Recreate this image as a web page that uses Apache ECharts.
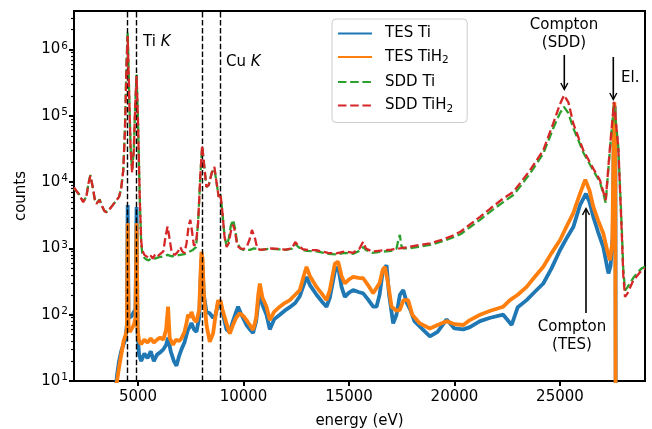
<!DOCTYPE html>
<html><head><meta charset="utf-8">
<script src="https://cdn.jsdelivr.net/npm/echarts@6/dist/echarts.min.js"></script>
<style>html,body{margin:0;padding:0;background:#fff}#c{width:652px;height:429px}</style>
</head><body><div id="c"></div>
<script>
// ---- data (energy eV, counts) ----
const tesTi = [[3950,8],[4000,12],[4100,20],[4200,28],[4300,35],[4400,42],[4470,70],[4510,4500],[4550,90],[4620,85],[4700,95],[4800,110],[4880,120],[4932,4200],[4980,50],[5050,25],[5150,20],[5300,26],[5450,22],[5600,28],[5750,20],[5900,25],[6050,27],[6200,30],[6330,35],[6423,45],[6550,28],[6700,20],[6821,17],[6950,24],[7059,30],[7200,38],[7300,50],[7372,60],[7450,65],[7533,75],[7650,60],[7770,55],[7900,90],[7960,300],[8007,700],[8060,500],[8120,200],[8245,110],[8401,105],[8557,90],[8680,100],[8795,148],[8850,130],[8905,140],[9000,110],[9193,60],[9350,55],[9500,80],[9650,110],[9743,132],[9900,100],[10141,70],[10300,60],[10454,53],[10600,80],[10700,150],[10772,210],[10900,140],[11090,100],[11246,60],[11450,85],[11720,100],[11950,115],[12195,130],[12450,150],[12669,190],[12850,280],[12987,372],[13150,280],[13461,200],[13700,160],[13935,132],[14090,180],[14330,450],[14486,528],[14650,260],[14803,186],[15000,215],[15197,235],[15450,220],[15672,210],[15900,170],[16146,132],[16305,132],[16450,200],[16600,450],[16781,560],[16900,200],[17094,74],[17250,100],[17412,200],[17570,235],[17745,150],[17900,120],[18100,80],[18517,59],[18835,47],[19200,55],[19627,85],[20000,62],[20414,60],[20731,65],[21210,80],[21700,90],[22310,100],[22710,70],[23000,130],[23420,166],[23800,220],[24210,296],[24600,500],[25000,940],[25300,1400],[25632,2100],[25950,4500],[26230,6700],[26400,5000],[26580,3000],[26800,1800],[27055,1050],[27250,500],[27300,420],[27400,550],[27500,1500],[27560,80000],[27600,140000],[27630,20000],[27645,1]];

const tesTiH2 = [[3950,8],[4005,10],[4100,16],[4165,21],[4250,30],[4322,41],[4400,48],[4470,60],[4510,2400],[4550,62],[4620,55],[4700,62],[4800,70],[4880,90],[4932,2400],[4980,60],[5050,40],[5150,36],[5300,42],[5450,38],[5600,44],[5750,38],[5900,42],[6050,45],[6200,42],[6330,60],[6423,132],[6500,45],[6660,35],[6800,42],[6950,40],[7059,44],[7200,55],[7300,75],[7372,100],[7450,90],[7533,110],[7650,85],[7770,78],[7900,120],[7960,400],[8007,890],[8060,700],[8120,200],[8245,70],[8401,39],[8557,52],[8680,100],[8795,166],[8850,150],[8905,166],[9000,120],[9193,74],[9350,52],[9500,70],[9650,90],[9824,105],[10000,95],[10141,83],[10300,70],[10454,59],[10600,90],[10700,200],[10772,296],[10900,180],[11090,132],[11246,83],[11450,110],[11720,132],[11950,150],[12195,166],[12450,200],[12669,235],[12850,380],[12987,528],[13150,380],[13461,263],[13700,210],[13935,166],[14090,235],[14330,590],[14486,630],[14650,380],[14803,296],[15000,340],[15197,372],[15450,360],[15672,355],[15900,280],[16146,210],[16450,300],[16600,480],[16700,528],[16850,300],[17018,132],[17250,115],[17412,118],[17580,166],[17805,166],[18000,100],[18360,74],[18835,62],[19200,70],[19627,80],[20000,72],[20414,70],[20731,83],[21210,100],[21700,115],[22310,132],[22630,166],[23000,200],[23420,263],[23800,370],[24210,528],[24600,850],[25000,1330],[25300,2100],[25632,3400],[25950,6700],[26200,10900],[26400,7500],[26580,4260],[26800,2700],[27055,1680],[27250,900],[27370,665],[27480,1200],[27540,30000],[27580,160000],[27620,30000],[27640,1]];

const sddTi = [[1965,8000],[2200,6600],[2400,5100],[2550,6000],[2650,9500],[2740,12800],[2850,8500],[2950,5500],[3030,4800],[3120,5000],[3180,5500],[3260,4600],[3400,3700],[3500,3550],[3650,3900],[3800,4500],[3950,5200],[4100,6000],[4200,8000],[4300,15000],[4380,65000],[4450,600000],[4510,1850000],[4580,220000],[4650,32000],[4720,15000],[4800,32000],[4870,160000],[4932,420000],[5000,80000],[5080,6000],[5150,1200],[5200,850],[5300,720],[5400,680],[5500,660],[5600,700],[5800,700],[6000,740],[6200,760],[6400,800],[6600,760],[6800,780],[7000,800],[7200,820],[7400,880],[7600,950],[7750,1050],[7850,2500],[7950,12000],[8040,34000],[8120,20000],[8240,8500],[8350,9000],[8500,14000],[8620,16000],[8720,10000],[8820,6000],[8905,6500],[9000,3500],[9100,1500],[9200,1100],[9300,1400],[9400,2200],[9505,2700],[9600,2000],[9700,1200],[9850,1000],[10000,950],[10300,950],[10500,1000],[10800,950],[11000,970],[11300,990],[11700,970],[12000,950],[12300,990],[12450,1180],[12510,1250],[12600,1050],[12800,950],[13000,920],[13460,900],[14000,830],[14400,810],[14800,860],[15200,830],[15500,920],[15670,1050],[15800,950],[16100,860],[16500,890],[17000,920],[17255,1000],[17350,1400],[17412,1600],[17480,1100],[17570,1000],[17800,1000],[18300,1060],[18840,1130],[19400,1280],[19900,1450],[20300,1650],[21210,2700],[21700,3600],[22310,5000],[22790,6400],[23200,9300],[23580,13500],[24210,27000],[24682,65000],[25000,110000],[25190,137000],[25400,110000],[25632,65000],[25900,41000],[26106,28000],[26580,15000],[26897,10000],[27050,6800],[27167,4900],[27372,32000],[27561,150000],[27765,34000],[27925,2200],[28000,500],[28083,232],[28200,260],[28477,360],[28700,440],[28875,500],[29031,530]];

const sddTiH2 = [[1965,8300],[2200,6500],[2400,5000],[2550,6000],[2650,9500],[2740,12500],[2850,8500],[2950,5500],[3030,4700],[3120,5000],[3180,5400],[3260,4600],[3400,3700],[3500,3500],[3650,3900],[3800,4500],[3950,5200],[4100,6000],[4200,8000],[4300,15000],[4380,60000],[4450,500000],[4510,1600000],[4580,200000],[4650,30000],[4720,14000],[4800,30000],[4870,150000],[4932,400000],[5000,80000],[5080,6000],[5150,1300],[5200,950],[5300,800],[5400,760],[5500,720],[5600,780],[5700,700],[5800,800],[5900,750],[6000,800],[6200,900],[6300,1500],[6400,2150],[6480,1500],[6600,850],[6750,800],[6900,900],[7000,1050],[7100,900],[7200,850],[7300,1200],[7400,2200],[7480,2700],[7560,1800],[7650,1100],[7750,1200],[7850,2500],[7950,12000],[8040,36000],[8120,20000],[8240,8500],[8350,9000],[8500,14000],[8620,17000],[8720,10000],[8820,6000],[8905,6700],[9000,3500],[9100,1500],[9200,1050],[9300,1200],[9400,1800],[9500,2300],[9600,1800],[9700,1100],[9850,1000],[10000,980],[10150,1050],[10300,1400],[10400,1900],[10455,2000],[10550,1400],[10650,1000],[10800,950],[11000,970],[11300,1000],[11700,980],[12000,960],[12300,1000],[12450,1250],[12510,1330],[12600,1100],[12800,980],[13000,950],[13460,940],[14000,860],[14400,840],[14800,900],[15200,860],[15500,1000],[15670,1260],[15800,1000],[16100,900],[16500,930],[17000,960],[17400,1000],[17800,1050],[18300,1120],[18840,1190],[19400,1350],[19900,1550],[20300,1800],[21210,3000],[21700,4000],[22310,5670],[22790,7130],[23200,10500],[23580,15100],[24210,30300],[24682,77000],[25000,150000],[25190,205000],[25400,160000],[25632,77000],[25900,45000],[26106,30300],[26580,16000],[26897,10700],[27050,7200],[27167,5350],[27372,34000],[27561,163000],[27765,34000],[27925,1890],[28000,400],[28083,186],[28200,210],[28477,330],[28700,400],[28875,470],[29031,500]];

const refLines = [4510.8, 4931.8, 8047.8, 8905.3];   // Ti K, Cu K lines
const xTicks = [5000, 10000, 15000, 20000, 25000];
const yTicks = [10, 100, 1000, 10000, 100000, 1000000];
const seriesNames = ['TES Ti', 'TES TiH2', 'SDD Ti', 'SDD TiH2'];

// ---- chart ----
const FONT = 'DejaVu Sans';
const yMinor = [];
for (let e = 1; e <= 6; e++) for (let m = 2; m <= 9; m++) { const v = m * Math.pow(10, e); if (v < 3.82e6) yMinor.push(v); }

const chart = echarts.init(document.getElementById('c'), null, {renderer: 'canvas'});
const supFmt = v => '{b|10}{s|' + Math.round(Math.log10(v)) + '}';
const dash = [8.5, 3.7];

const option = {
  animation: false,
  backgroundColor: '#ffffff',
  textStyle: {fontFamily: FONT},
  grid: {left: 74, right: 7, top: 11, bottom: 48, show: true, borderColor: '#000', borderWidth: 2, backgroundColor: 'transparent',
         containLabel: false, outerBoundsMode: 'none'},
  xAxis: {
    type: 'value', min: 1965, max: 29031,
    name: 'energy (eV)', nameLocation: 'middle', nameGap: 33,
    nameTextStyle: {fontSize: 15, color: '#000', fontFamily: FONT},
    axisLine: {show: true, onZero: false, lineStyle: {color: '#000', width: 2}},
    axisTick: {show: true, length: 5, customValues: xTicks, lineStyle: {color: '#000', width: 2}},
    axisLabel: {customValues: xTicks, formatter: v => String(v), fontSize: 15, color: '#000', margin: 9, fontFamily: FONT},
    splitLine: {show: false}
  },
  yAxis: [{
    type: 'log', logBase: 10, min: 10, max: 3.82e6,
    name: 'counts', nameLocation: 'middle', nameGap: 45, nameRotate: 90,
    nameTextStyle: {fontSize: 15, color: '#000', fontFamily: FONT},
    axisLine: {show: true, lineStyle: {color: '#000', width: 2}},
    axisTick: {show: true, length: 5, customValues: yTicks, lineStyle: {color: '#000', width: 2}},
    axisLabel: {customValues: yTicks, formatter: supFmt, margin: 6,
      rich: {b: {fontSize: 15, color: '#000', fontFamily: FONT},
             s: {fontSize: 10.5, color: '#000', fontFamily: FONT, verticalAlign: 'top', padding: [0, 0, 7, 1]}}},
    splitLine: {show: false}
  }, {
    type: 'log', logBase: 10, min: 10, max: 3.82e6, position: 'left',
    axisLine: {show: false},
    axisTick: {show: true, length: 3, customValues: yMinor, lineStyle: {color: '#000', width: 1.2}},
    axisLabel: {show: false},
    splitLine: {show: false}
  }],
  legend: {
    data: seriesNames, orient: 'vertical', left: 332, top: 19,
    itemWidth: 34, itemHeight: 14, itemGap: 8.5, padding: [7, 14, 8, 5],
    backgroundColor: 'rgba(255,255,255,0.8)', borderColor: '#cccccc', borderWidth: 1, borderRadius: 4,
    itemStyle: {opacity: 0},
    formatter: n => n.replace('H2', 'H{sub|2}'),
    textStyle: {fontSize: 15, color: '#000', fontFamily: FONT, padding: [0, 0, 0, 8],
      rich: {sub: {fontSize: 10.5, color: '#000', fontFamily: FONT, verticalAlign: 'bottom', padding: [7, 0, 0, 0]}}}
  },
  series: [
    {name: seriesNames[0], type: 'line', data: tesTi, symbol: 'none', showSymbol: false, z: 2,
     lineStyle: {color: '#1f77b4', width: 3.8}, itemStyle: {color: '#1f77b4'}},
    {name: seriesNames[1], type: 'line', data: tesTiH2, symbol: 'none', showSymbol: false, z: 3,
     lineStyle: {color: '#ff7f0e', width: 3.8}, itemStyle: {color: '#ff7f0e'}},
    {name: seriesNames[2], type: 'line', data: sddTi, symbol: 'none', showSymbol: false, z: 4,
     lineStyle: {color: '#2ca02c', width: 2.3, type: dash}, itemStyle: {color: '#2ca02c'}},
    {name: seriesNames[3], type: 'line', data: sddTiH2, symbol: 'none', showSymbol: false, z: 5,
     lineStyle: {color: '#d62728', width: 2.3, type: dash}, itemStyle: {color: '#d62728'}},
    {name: 'lines', type: 'line', data: [], z: 6,
     markLine: {silent: true, symbol: ['none', 'none'], animation: false, label: {show: false},
       lineStyle: {color: '#000', type: [5.5, 2.4], width: 1.4},
       data: refLines.map(x => ({xAxis: x}))}}
  ],
  graphic: [
    {type: 'text', z: 100, x: 143, y: 42, style: {text: 'Ti {i|K}', fontSize: 15, fontFamily: FONT, fill: '#000', verticalAlign: 'middle', textVerticalAlign: 'middle',
      rich: {i: {fontStyle: 'italic', fontSize: 15, fontFamily: FONT, fill: '#000'}}}},
    {type: 'text', z: 100, x: 226, y: 62, style: {text: 'Cu {i|K}', fontSize: 15, fontFamily: FONT, fill: '#000', verticalAlign: 'middle', textVerticalAlign: 'middle',
      rich: {i: {fontStyle: 'italic', fontSize: 15, fontFamily: FONT, fill: '#000'}}}},
    {type: 'text', z: 100, x: 564, y: 34, style: {text: 'Compton\n(SDD)', fontSize: 15, fontFamily: FONT, fill: '#000', lineHeight: 18,
      align: 'center', textAlign: 'center', verticalAlign: 'middle', textVerticalAlign: 'middle'}},
    {type: 'text', z: 100, x: 621, y: 78, style: {text: 'El.', fontSize: 15, fontFamily: FONT, fill: '#000', verticalAlign: 'middle', textVerticalAlign: 'middle'}},
    {type: 'text', z: 100, x: 572, y: 336, style: {text: 'Compton\n(TES)', fontSize: 15, fontFamily: FONT, fill: '#000', lineHeight: 18,
      align: 'center', textAlign: 'center', verticalAlign: 'middle', textVerticalAlign: 'middle'}},
    {type: 'polyline', z: 100, shape: {points: [[564.3, 55], [564.3, 89]]}, style: {stroke: '#000', lineWidth: 1.6, fill: null}},
    {type: 'polyline', z: 100, shape: {points: [[560.8, 83], [564.3, 89.5], [567.8, 83]]}, style: {stroke: '#000', lineWidth: 1.4, fill: null}},
    {type: 'polyline', z: 100, shape: {points: [[613.3, 57], [613.3, 99]]}, style: {stroke: '#000', lineWidth: 1.6, fill: null}},
    {type: 'polyline', z: 100, shape: {points: [[609.8, 93], [613.3, 99.5], [616.8, 93]]}, style: {stroke: '#000', lineWidth: 1.4, fill: null}},
    {type: 'polyline', z: 100, shape: {points: [[586, 313], [586, 209]]}, style: {stroke: '#000', lineWidth: 1.6, fill: null}},
    {type: 'polyline', z: 100, shape: {points: [[582.5, 215], [586, 208.5], [589.5, 215]]}, style: {stroke: '#000', lineWidth: 1.4, fill: null}}
  ]
};
chart.setOption(option);
</script>
</body></html>
